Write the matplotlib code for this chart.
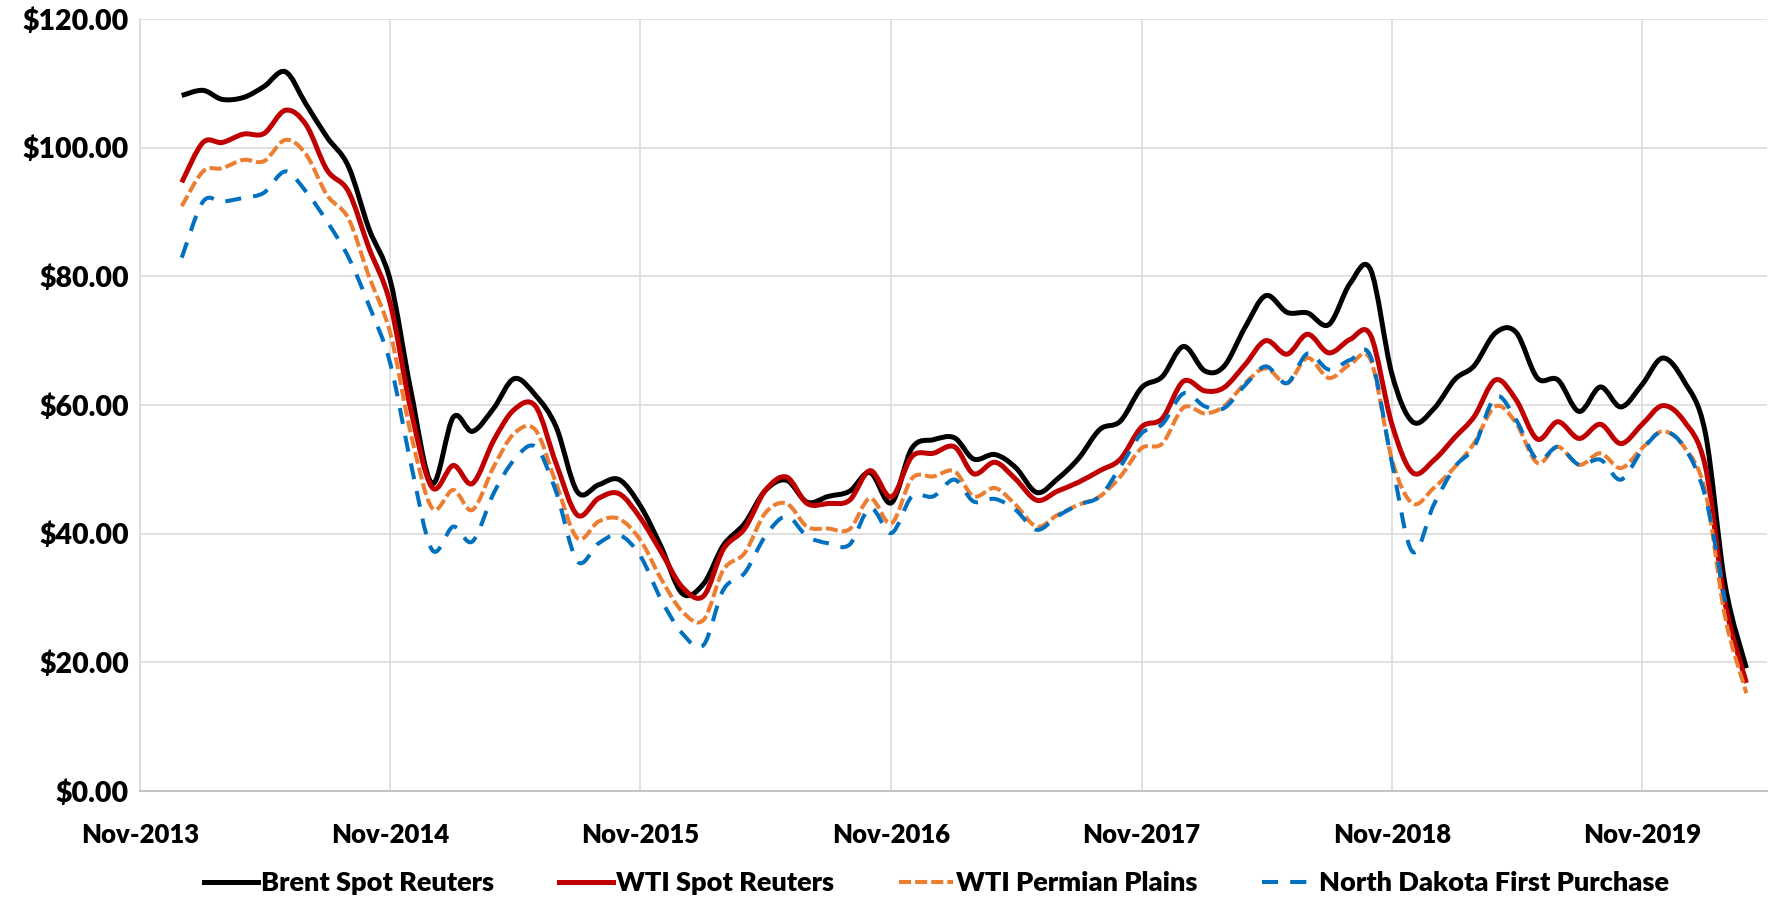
import numpy as np
import pandas as pd
import matplotlib

matplotlib.use('Agg')
import matplotlib.pyplot as plt
import matplotlib.dates as mdates
from matplotlib.path import Path
from matplotlib.patches import PathPatch
from matplotlib.lines import Line2D

plt.rcParams['font.family'] = ['Lato', 'Liberation Sans', 'DejaVu Sans']
plt.rcParams['font.weight'] = 'heavy'

# monthly averages, Jan-2014 .. Apr-2020 ($/bbl)
months = pd.date_range('2014-01-01', '2020-04-01', freq='MS')

brent = [108.1, 108.9, 107.5, 107.8, 109.5, 111.8, 106.8, 101.6, 97.1, 87.4, 79.4, 62.3,
         47.8, 58.1, 55.9, 59.5, 64.1, 61.5, 56.6, 46.5, 47.6, 48.4, 44.3, 38.0,
         30.7, 32.2, 38.2, 41.6, 46.7, 48.3, 44.9, 45.8, 46.6, 49.5, 44.8, 53.3,
         54.6, 54.9, 51.6, 52.3, 50.3, 46.4, 48.5, 51.7, 56.2, 57.5, 62.7, 64.4,
         69.1, 65.3, 66.0, 72.1, 77.0, 74.4, 74.3, 72.5, 78.9, 81.0, 64.8, 57.4,
         59.4, 64.0, 66.1, 71.2, 71.3, 64.2, 63.9, 59.0, 62.8, 59.7, 63.2, 67.3,
         63.7, 55.7, 32.0, 19.1]

wti = [94.6, 100.8, 100.8, 102.1, 102.2, 105.8, 103.6, 96.5, 93.2, 84.4, 75.8, 59.3,
       47.2, 50.6, 47.8, 54.5, 59.3, 59.8, 50.9, 42.9, 45.5, 46.2, 42.4, 37.2,
       31.7, 30.3, 37.6, 40.8, 46.7, 48.8, 44.7, 44.7, 45.2, 49.8, 45.7, 52.0,
       52.5, 53.5, 49.3, 51.1, 48.5, 45.2, 46.6, 48.0, 49.8, 51.6, 56.6, 57.9,
       63.7, 62.2, 62.7, 66.3, 70.0, 67.9, 71.0, 68.1, 70.2, 70.8, 57.0, 49.5,
       51.4, 55.0, 58.2, 63.9, 60.8, 54.7, 57.4, 54.8, 57.0, 54.0, 57.0, 59.9,
       57.5, 50.5, 29.2, 16.8]

permian = [90.9, 96.3, 96.8, 98.1, 97.9, 101.2, 99.0, 92.6, 89.0, 80.0, 71.2, 55.6,
           44.0, 46.8, 43.7, 50.4, 55.6, 56.1, 47.8, 39.3, 41.9, 42.3, 39.0, 33.0,
           27.9, 26.6, 34.4, 37.0, 43.2, 44.7, 41.1, 40.8, 40.7, 45.5, 41.6, 48.6,
           48.9, 49.7, 45.8, 47.1, 44.5, 41.1, 42.9, 44.5, 45.8, 48.9, 53.3, 54.0,
           59.6, 58.7, 59.8, 63.4, 65.7, 63.4, 67.3, 64.2, 66.3, 67.0, 51.5, 44.7,
           47.1, 50.4, 54.1, 59.8, 57.2, 51.0, 53.5, 50.7, 52.5, 50.2, 53.3, 55.9,
           53.5, 46.6, 27.0, 15.2]

# North Dakota series ends Mar-2020
north_dakota = [82.9, 91.6, 91.6, 92.2, 93.0, 96.3, 93.2, 88.5, 83.0, 75.5, 66.5, 51.0,
                37.5, 41.1, 38.8, 46.3, 51.5, 53.5, 46.5, 35.7, 38.5, 39.8, 36.5, 29.8,
                24.5, 22.7, 31.3, 33.9, 39.6, 42.7, 39.6, 38.5, 38.3, 44.0, 40.1, 45.8,
                45.8, 48.4, 45.0, 45.4, 43.7, 40.6, 42.7, 44.5, 45.8, 50.4, 55.6, 57.0,
                61.8, 59.8, 59.5, 63.1, 66.0, 63.4, 68.0, 65.5, 67.0, 67.5, 51.0, 37.2,
                44.5, 50.4, 53.5, 61.3, 57.7, 51.5, 53.5, 50.7, 51.5, 48.4, 53.0, 55.9,
                53.5, 45.8, 29.4]

names = ['Brent Spot Reuters', 'WTI Spot Reuters', 'WTI Permian Plains', 'North Dakota First Purchase']
colors = ['#000000', '#C00000', '#ED7D31', '#0070C0']
widths = [3.6, 3.6, 2.9, 2.9]
styles = ['-', '-', (0, (3, 1)), (0, (4, 3))]


def smooth_path(x, y):
    # excel-like smoothed line: catmull-rom through the points as cubic bezier
    pts = np.column_stack([x, y])
    p = np.vstack([pts[0], pts, pts[-1]])
    verts = [pts[0]]
    codes = [Path.MOVETO]
    for i in range(len(pts) - 1):
        p0, p1, p2, p3 = p[i], p[i + 1], p[i + 2], p[i + 3]
        verts += [p1 + (p2 - p0) / 6, p2 - (p3 - p1) / 6, p2]
        codes += [Path.CURVE4] * 3
    return Path(verts, codes)


fig, ax = plt.subplots(figsize=(17.87, 9.02), dpi=100)
fig.subplots_adjust(left=0.0783, right=0.9888, top=0.979, bottom=0.123)

xnum = mdates.date2num(months)
series = [brent, wti, permian, north_dakota]
for vals, c, lw, ls in zip(series, colors, widths, styles):
    n = len(vals)
    path = smooth_path(xnum[:n], np.array(vals))
    ax.add_patch(PathPatch(path, fill=False, edgecolor=c, lw=lw, linestyle=ls,
                           capstyle='butt', joinstyle='round', zorder=3))

ax.set_xlim(mdates.date2num(pd.Timestamp('2013-11-01')), mdates.date2num(pd.Timestamp('2020-05-01')))
ax.set_ylim(0, 120)
ax.set_yticks(np.arange(0, 121, 20))
ax.yaxis.set_major_formatter(matplotlib.ticker.FuncFormatter(lambda v, p: '${:.2f}'.format(v)))
ax.xaxis.set_major_locator(mdates.MonthLocator(bymonth=11))
ax.xaxis.set_major_formatter(mdates.DateFormatter('%b-%Y'))

ax.grid(True, color='#D9D9D9', lw=1.1)
ax.set_axisbelow(True)
for s in ['top', 'right']:
    ax.spines[s].set_visible(False)
ax.spines['left'].set_color('#D9D9D9')
ax.spines['left'].set_linewidth(1.1)
ax.spines['bottom'].set_color('#BFBFBF')
ax.spines['bottom'].set_linewidth(1.3)
ax.tick_params(axis='both', length=0)
ax.tick_params(axis='x', pad=23, labelsize=18.5)
ax.tick_params(axis='y', pad=8, labelsize=20.5)

handles = [Line2D([], [], color=c, lw=lw, linestyle=ls) for c, lw, ls in zip(colors, widths, styles)]
fig.legend(handles, names, loc='center', bbox_to_anchor=(0.524, 0.021), ncol=4, frameon=False,
           fontsize=19.5, handlelength=2.0, handletextpad=0.1, columnspacing=2.4)

plt.savefig('out.png', dpi=100)
